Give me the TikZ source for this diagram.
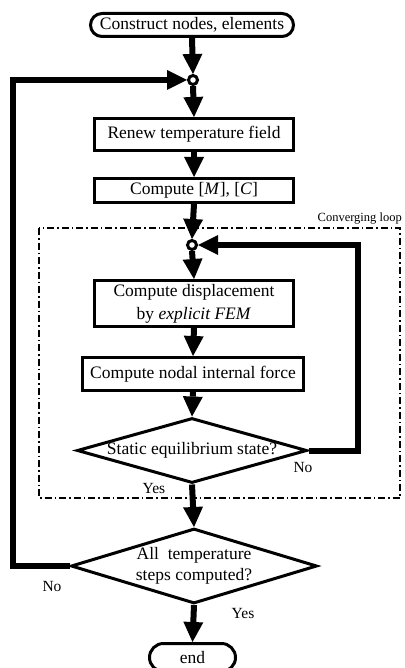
\documentclass[tikz,border=0pt]{standalone}
\usepackage{fontspec}
\setmainfont{Liberation Serif}
\usetikzlibrary{arrows.meta,shapes.geometric,shapes.misc}
\begin{document}
\begin{tikzpicture}[x=1pt,y=-1pt,
  txt/.style={font=\fontsize{17.5}{23}\selectfont},
  lbl/.style={font=\fontsize{15.5}{18}\selectfont},
  box/.style={draw,line width=3,rectangle,inner sep=0,txt,align=center},
  term/.style={draw,line width=3,rounded rectangle,inner sep=0,txt},
  dia/.style={draw,line width=3,diamond,inner sep=0},
  junc/.style={draw,line width=3,circle,fill=white,inner sep=0,minimum size=9},
  flow/.style={line width=6,-{Triangle[width=20pt,length=20pt,line width=0pt]}},
  back/.style={line width=6,line join=miter,-{Triangle[width=20pt,length=20pt,line width=0pt]}},
  frame/.style={line width=1.4,dash pattern=on 7pt off 3pt on 1.5pt off 3pt}
]
\useasboundingbox (0,0) rectangle (404,668);
\node[term,minimum width=203,minimum height=23] (start) at (192,25) {Construct nodes, elements};
\node[junc] (c1) at (193,80) {};
\node[box,minimum width=199,minimum height=32] (renew) at (194,134.5) {Renew temperature field};
\node[box,minimum width=199,minimum height=24] (mc) at (194,190.5) {Compute [\textit{M}], [\textit{C}]};
\draw[frame] (39,228) rectangle (400,498);
\node[anchor=base east,inner sep=0,font=\fontsize{12.5}{15}\selectfont] (conv) at (402,222) {Converging loop};
\node[junc] (c2) at (192,245) {};
\node[box,minimum width=199,minimum height=46] (disp) at (194,303.5) {Compute displacement\\by \textit{explicit FEM}};
\node[box,minimum width=221,minimum height=33] (nodal) at (193,374) {Compute nodal internal force};
\node[dia,minimum width=230,minimum height=65,label={[txt]center:Static equilibrium state?}] (d1) at (192,450.5) {};
\node[dia,minimum width=246,minimum height=75,label={[txt,align=center,font=\fontsize{17.5}{21}\selectfont]center:All\ \ temperature\\steps computed?}] (d2) at (194,566) {};
\node[term,minimum width=86,minimum height=28] (end) at (192.5,657.5) {end};
\node[lbl] (no1) at (303,467) {No};
\node[lbl] (yes1) at (154,488) {Yes};
\node[lbl] (no2) at (52,586) {No};
\node[lbl] (yes2) at (243,613) {Yes};
\coordinate (l1) at (13,566);
\coordinate (l2) at (13,80);
\coordinate (r1) at (358,450.5);
\coordinate (r2) at (358,245);
\draw[flow] (start.south) -- (c1.north);
\draw[flow] (c1.south) -- (renew.north);
\draw[flow] (renew.south) -- (mc.north);
\draw[flow] (mc.south) -- (c2.north);
\draw[flow] (c2.south) -- (disp.north);
\draw[flow] (disp.south) -- (nodal.north);
\draw[flow] (nodal.south) -- (d1.north);
\draw[flow] (d1.south) -- (d2.north);
\draw[flow] (d2.south) -- (end.north);
\draw[back] (d2.west) -- (l1) -- (l2) -- (c1.west);
\draw[back] (d1.east) -- (r1) -- (r2) -- (c2.east);
\end{tikzpicture}
\end{document}
